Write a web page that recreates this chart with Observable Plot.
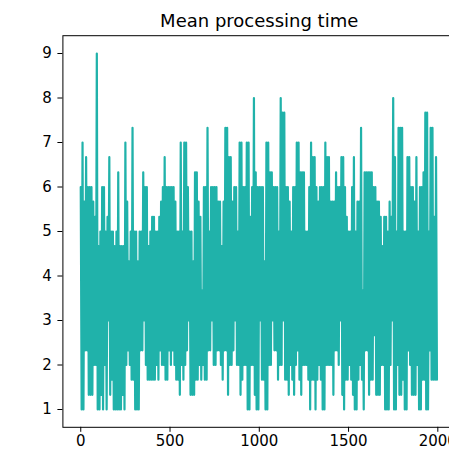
<!DOCTYPE html>
<html><head><meta charset="utf-8">
<script src="https://cdn.jsdelivr.net/npm/d3@7"></script>
<script src="https://cdn.jsdelivr.net/npm/@observablehq/plot@0.6"></script>
<style>html,body{margin:0;padding:0;overflow:hidden;background:#fff}</style>
</head><body><div id="chart"></div>
<script>
const title = "Mean processing time";
const xTicks = [0, 500, 1000, 1500, 2000];
const yTicks = [1, 2, 3, 4, 5, 6, 7, 8, 9];
const step = 10; // iterations per read-off segment

// local maxima read per segment (10 iterations each)
const peaks = [
  6, 7, 5.67, 6.67, 6, 6, 6, 5.67, 5.33, 9,
  4.67, 5, 6, 6, 5, 5.33, 6.67, 5, 5, 4.67,
  5, 6.33, 4.67, 4.67, 4.67, 7, 5.67, 4.33, 5, 7.33,
  5, 5, 4.33, 5, 5, 6.33, 6, 6, 4.67, 5,
  5.33, 5.33, 5, 5, 5.33, 5.67, 6, 6.67, 6, 6,
  6, 6, 6, 5.67, 5, 5, 7, 5, 7, 7,
  6, 5, 5, 4.33, 6.33, 6.33, 5.67, 5.33, 3.67, 6,
  6, 7.33, 5, 6, 6, 6, 6, 5.67, 5.67, 4.67,
  5.67, 7.33, 7.33, 6.67, 6.67, 5.67, 6, 6, 5, 7,
  7, 6, 6, 7, 7, 5.33, 6, 8, 6.33, 6,
  6, 6, 6, 4.33, 7, 7, 6.33, 6.33, 6, 6,
  6, 5, 8, 7.67, 7.67, 6, 6, 5.67, 5, 6,
  6, 7, 7, 6.33, 6.33, 6.33, 5, 5, 6, 7,
  6.67, 6.67, 6, 5.67, 6, 6, 6, 7, 6.67, 6.67,
  5.67, 5.67, 5.67, 6.33, 6, 6, 6.67, 6.67, 6, 5.33,
  5, 5, 6, 6.67, 5, 5.67, 5.67, 7.33, 3.67, 6.33,
  6.33, 6.33, 6.33, 6.33, 6, 6, 5.67, 5.67, 5.33, 4.67,
  5.33, 5.33, 5, 5.67, 5.33, 8, 6.67, 5, 7.33, 7.33,
  7.33, 5, 5, 6.67, 6.67, 6, 6, 5.67, 6.67, 5,
  6, 6, 6.33, 7.67, 7.67, 5, 7.33, 7.33, 5.33, 6.67
];
// local minima read per segment
const troughs = [
  1, 1, 2.33, 2.33, 1.33, 1.33, 1.33, 2, 2, 1,
  1, 1.33, 1, 2, 1, 3, 1.33, 1.67, 1, 1,
  1, 1, 1, 1.33, 1, 2, 2.33, 2, 1.67, 1.67,
  1, 1, 1, 2.33, 2.33, 3, 2, 1.67, 1.67, 1.67,
  1.67, 1.67, 2, 1.67, 2.33, 2, 2, 1.67, 1.67, 2.33,
  2, 2.33, 2, 1.67, 1.67, 1.33, 2, 1.67, 2, 2.33,
  3, 1.33, 1.33, 1.33, 1.67, 1.67, 2, 1.67, 2, 1.67,
  1.67, 2.33, 2.33, 3, 2, 2, 2.33, 2.33, 2, 1.67,
  2.33, 2.33, 1.33, 2, 2, 2.33, 3, 2, 2, 1.33,
  1.67, 2, 2, 1, 1, 2, 2, 1.33, 1, 1,
  3, 1.67, 1.67, 1, 1, 2, 2, 3, 2.33, 2.33,
  1.67, 2, 2, 3, 1.67, 1.67, 1.33, 2, 1.67, 1.33,
  2, 2.33, 1.67, 1.33, 2, 2, 2, 1.67, 1, 1.67,
  1.67, 1, 1.67, 2, 1.67, 1, 1, 2, 2, 2,
  2, 1.33, 2.33, 2.33, 2, 3, 1.33, 1, 1.67, 1.67,
  2, 1.67, 1.33, 1, 1, 1.67, 2, 1.67, 1, 2.33,
  2.33, 1.33, 1.67, 1.67, 2.67, 1.33, 1.33, 1.33, 2, 2,
  1, 1, 1, 2, 3, 1, 1, 2, 1.33, 1.33,
  1.67, 1, 1, 2.33, 2, 1.33, 1.33, 1.33, 2, 1,
  1, 1.67, 1.67, 1, 1, 2.33, 1.67, 1.67, 1.67, 1.67
];

const data = [];
peaks.forEach((p, i) => {
  data.push({iteration: i * step, time: p});
  data.push({iteration: i * step + step / 2, time: troughs[i]});
});

const chart = Plot.plot({
  width: 456,
  height: 449,
  marginLeft: 62.4,
  marginRight: 1,
  marginTop: 35.2,
  marginBottom: 22.2,
  style: {fontFamily: "DejaVu Sans", fontSize: "15px", color: "#000", background: "#fff", overflow: "visible"},
  x: {domain: [-100, 2099], label: null},
  y: {domain: [0.6, 9.4], label: null},
  marks: [
    Plot.line(data, {x: "iteration", y: "time", stroke: "#20b2aa", strokeWidth: 2.2}),
    Plot.frame({stroke: "#000", strokeWidth: 1}),
    Plot.axisX({ticks: xTicks, tickSize: 5, tickPadding: 3, tickFormat: d => String(d), label: null, fontSize: 15}),
    Plot.axisY({ticks: yTicks, tickSize: 5, tickPadding: 6, tickFormat: d => String(d), label: null, fontSize: 15}),
    Plot.text([title], {text: d => d, frameAnchor: "top", dy: -9, lineAnchor: "bottom", fontSize: 18, fill: "#000"})
  ]
});
chart.style.maxWidth = "none";
document.getElementById("chart").appendChild(chart);
</script>
</body></html>
